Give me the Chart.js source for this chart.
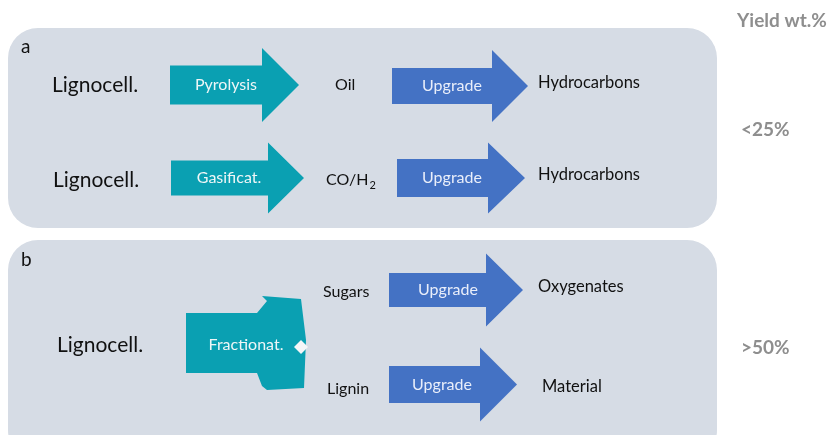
<!DOCTYPE html>
<html>
<head>
<meta charset="utf-8">
<script src="https://cdn.jsdelivr.net/npm/chart.js@4.4.1/dist/chart.umd.min.js"></script>
<style>
  html, body { margin: 0; padding: 0; background: #fff; }
  #wrap { width: 837px; height: 435px; }
</style>
</head>
<body>
<div id="wrap"><canvas id="diagrama"></canvas></div>
<script>
// dados do esquema
const paineis = ["a", "b"];
const materiaPrima = ["Lignocell.", "Lignocell.", "Lignocell."];
const processos = ["Pyrolysis", "Gasificat.", "Fractionat."];
const intermediarios = ["Oil", "CO/H₂", "Sugars", "Lignin"];
const etapaFinal = ["Upgrade", "Upgrade", "Upgrade", "Upgrade"];
const produtos = ["Hydrocarbons", "Hydrocarbons", "Oxygenates", "Material"];
const tituloRendimento = "Yield wt.%";
const rendimentos = ["<25%", ">50%"];

// layout (unidades da escala, 1 unidade = 1 px)
const caixas = [[8, 717, 28, 228], [8, 717, 240, 460]];
const setasProc = [
  [170, 262, 299, 85, 19.5, 37],
  [171, 268, 304, 178, 17.5, 35.5]
];
const setasUpg = [
  [392, 492, 528, 86, 18, 36],
  [397, 488, 525, 178, 19, 35.5],
  [389, 486, 523, 290, 17, 36.5],
  [389, 480, 517, 384.5, 18.5, 37]
];

const TEAL = "#0aa0b2";
const AZUL = "#4472c4";
const FUNDO = "#d6dce5";
const CINZA = "#8e8e8e";
const FONTE = "Lato, 'Open Sans', sans-serif";

function px(c, v) { return c.scales.x.getPixelForValue(v); }
function py(c, v) { return c.scales.y.getPixelForValue(v); }

function caixa(c, ctx, b) {
  const x0 = px(c, b[0]), x1 = px(c, b[1]), y0 = py(c, b[2]), y1 = py(c, b[3]);
  ctx.beginPath();
  ctx.roundRect(x0, y0, x1 - x0, y1 - y0, 30);
  ctx.fillStyle = FUNDO;
  ctx.fill();
}

function seta(c, ctx, s, cor) {
  const [x0, pesc, ponta, cy, bh, hh] = s;
  ctx.beginPath();
  ctx.moveTo(px(c, x0), py(c, cy - bh));
  ctx.lineTo(px(c, pesc), py(c, cy - bh));
  ctx.lineTo(px(c, pesc), py(c, cy - hh));
  ctx.lineTo(px(c, ponta), py(c, cy));
  ctx.lineTo(px(c, pesc), py(c, cy + hh));
  ctx.lineTo(px(c, pesc), py(c, cy + bh));
  ctx.lineTo(px(c, x0), py(c, cy + bh));
  ctx.closePath();
  ctx.fillStyle = cor;
  ctx.fill();
}

function texto(c, ctx, t, x, y, tam, cor, alinh, peso) {
  ctx.font = (peso || "normal") + " " + tam + "px " + FONTE;
  ctx.fillStyle = cor;
  ctx.textAlign = alinh || "left";
  ctx.textBaseline = "middle";
  ctx.fillText(t, px(c, x), py(c, y));
}

const desenhoEsquema = {
  id: "esquema",
  afterDraw(c) {
    const ctx = c.ctx;
    ctx.save();
    caixas.forEach(b => caixa(c, ctx, b));

    texto(c, ctx, paineis[0], 21, 47, 19, "#111");
    texto(c, ctx, paineis[1], 21, 260, 19, "#111");

    // painel a
    texto(c, ctx, materiaPrima[0], 52, 85, 21, "#111");
    texto(c, ctx, materiaPrima[1], 53, 180, 21, "#111");
    setasProc.forEach(s => seta(c, ctx, s, TEAL));
    texto(c, ctx, processos[0], 226, 85, 16, "#eef6f7", "center");
    texto(c, ctx, processos[1], 229, 178, 16, "#eef6f7", "center");
    texto(c, ctx, intermediarios[0], 335, 85, 16, "#111");

    // CO/H2 com subscrito
    ctx.font = "16px " + FONTE;
    ctx.fillStyle = "#111";
    ctx.textAlign = "left";
    ctx.textBaseline = "middle";
    const base = intermediarios[1].replace("₂", "");
    ctx.fillText(base, px(c, 326), py(c, 180));
    const w = ctx.measureText(base).width;
    ctx.font = "11px " + FONTE;
    ctx.fillText("2", px(c, 326) + w + 1, py(c, 185));

    // painel b: seta de fracionamento
    const forma = [[186, 313], [257, 313], [267, 301], [262, 296], [301, 299], [306, 340],
                   [304, 388], [267, 390], [262, 386], [257, 373], [186, 373]];
    ctx.beginPath();
    forma.forEach((p, i) => i ? ctx.lineTo(px(c, p[0]), py(c, p[1])) : ctx.moveTo(px(c, p[0]), py(c, p[1])));
    ctx.closePath();
    ctx.fillStyle = TEAL;
    ctx.fill();
    ctx.beginPath();
    ctx.moveTo(px(c, 294), py(c, 347));
    ctx.lineTo(px(c, 301), py(c, 340));
    ctx.lineTo(px(c, 308), py(c, 347));
    ctx.lineTo(px(c, 301), py(c, 354));
    ctx.closePath();
    ctx.fillStyle = "#f4f6f8";
    ctx.fill();
    texto(c, ctx, materiaPrima[2], 57, 345, 21, "#111");
    texto(c, ctx, processos[2], 246, 345, 16, "#eef6f7", "center");
    texto(c, ctx, intermediarios[2], 323, 292, 16, "#111");
    texto(c, ctx, intermediarios[3], 327, 389, 16, "#111");

    // etapas de upgrade e produtos
    const meio = [452, 452, 448, 442];
    const yProd = [83, 175, 287, 387];
    const xProd = [538, 538, 538, 542];
    setasUpg.forEach((s, i) => {
      seta(c, ctx, s, AZUL);
      texto(c, ctx, etapaFinal[i], meio[i], s[3], 16, "#e9eefa", "center");
      texto(c, ctx, produtos[i], xProd[i], yProd[i], 16.5, "#111");
    });

    // rendimentos
    texto(c, ctx, tituloRendimento, 737, 21, 19, CINZA, "left", "bold");
    texto(c, ctx, rendimentos[0], 741, 130, 19, CINZA, "left", "bold");
    texto(c, ctx, rendimentos[1], 741, 348, 19, CINZA, "left", "bold");
    ctx.restore();
  }
};

new Chart(document.getElementById("diagrama").getContext("2d"), {
  type: "scatter",
  data: { datasets: [{ data: [], pointRadius: 0 }] },
  options: {
    responsive: true,
    maintainAspectRatio: false,
    animation: false,
    layout: { padding: 0 },
    plugins: { legend: { display: false }, tooltip: { enabled: false } },
    scales: {
      x: { type: "linear", min: 0, max: 837, display: false },
      y: { type: "linear", min: 0, max: 435, reverse: true, display: false }
    }
  },
  plugins: [desenhoEsquema]
});
</script>
</body>
</html>
